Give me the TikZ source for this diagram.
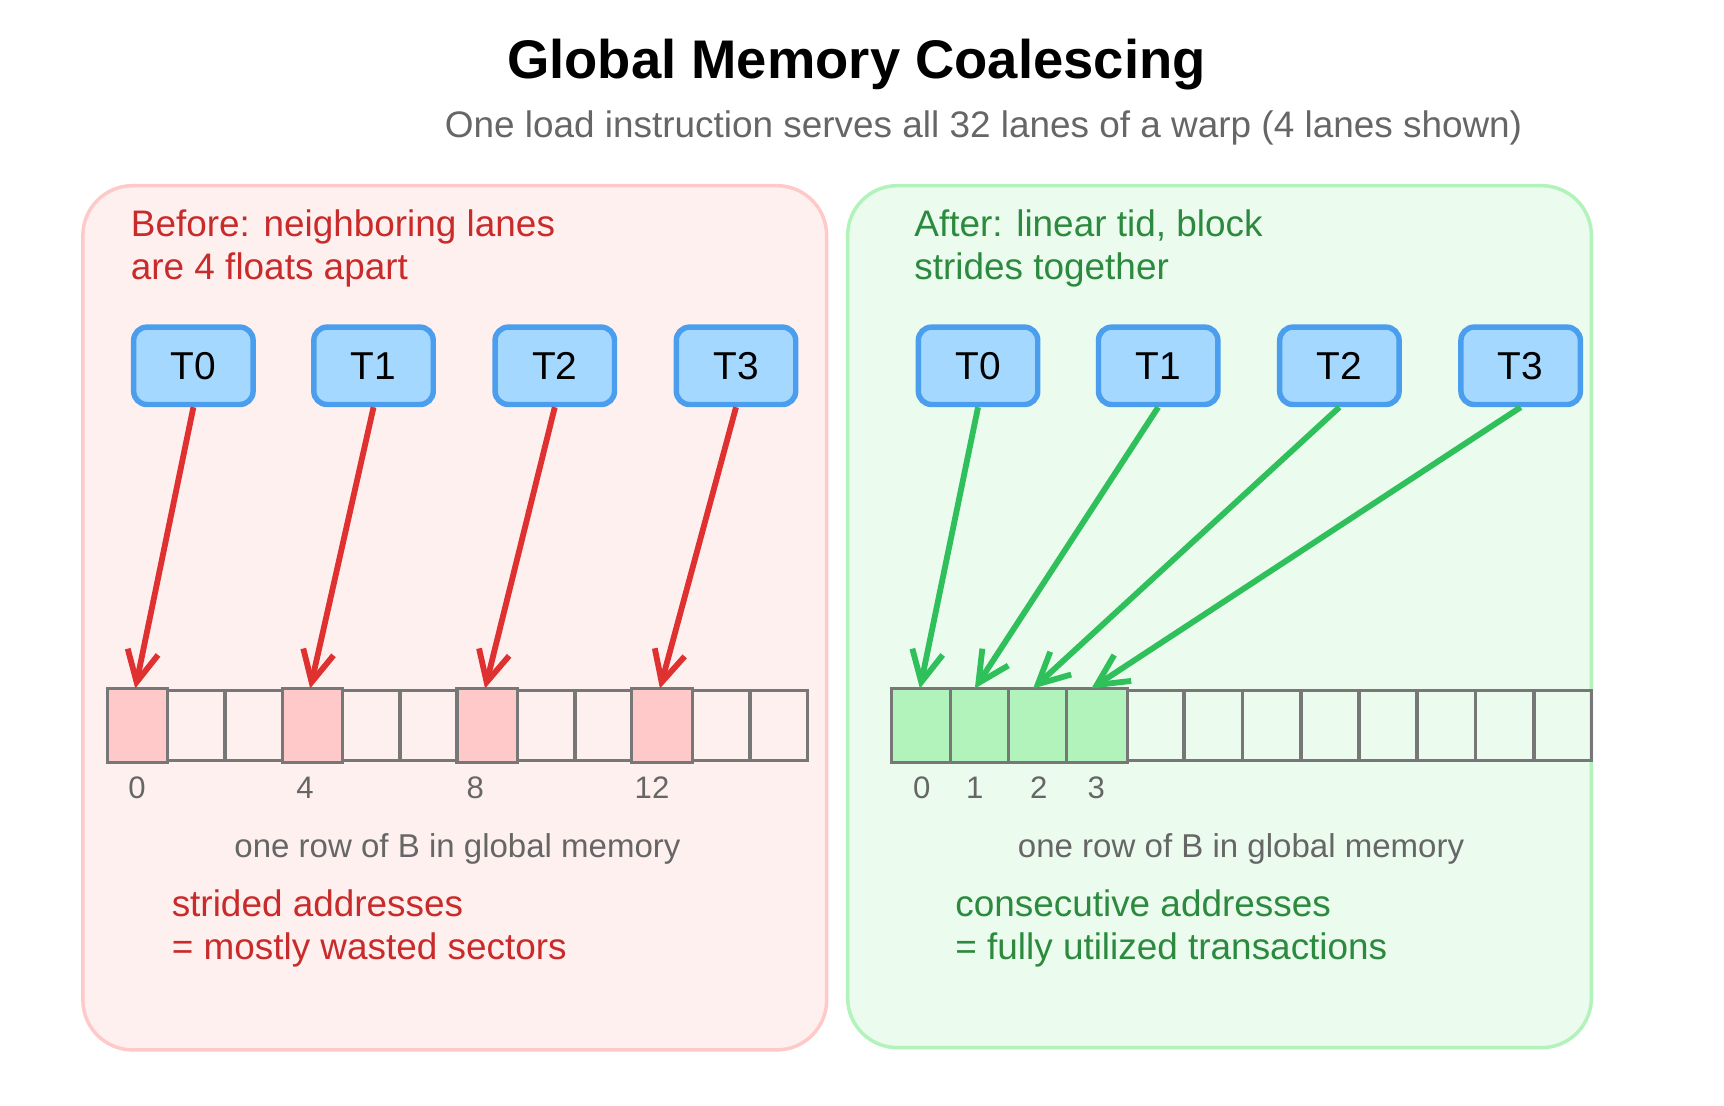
\documentclass[tikz,border=0pt]{standalone}
\usepackage{fontspec}
\setmainfont{Liberation Sans}
\usetikzlibrary{arrows.meta}
\definecolor{pinkbg}{HTML}{FFF0F0}\definecolor{pinkbd}{HTML}{FFC9C9}
\definecolor{greenbg}{HTML}{EBFBEE}\definecolor{greenbd}{HTML}{B2F2BB}
\definecolor{tbg}{HTML}{A5D8FF}\definecolor{tbd}{HTML}{4A9EED}
\definecolor{redt}{HTML}{C92A2A}\definecolor{redl}{HTML}{E03131}
\definecolor{greent}{HTML}{2B8A3E}\definecolor{greenl}{HTML}{2FBF5B}
\definecolor{cellbd}{HTML}{777777}\definecolor{graytxt}{HTML}{666666}
\begin{document}
\begin{tikzpicture}[x=0.01cm,y=-0.01cm,
 panel/.style={rounded corners=0.45cm,line width=0.9pt},
 th/.style={draw=tbd,fill=tbg,line width=1.4pt,rounded corners=0.12cm,minimum width=1.08cm,minimum height=0.7cm,font=\fontsize{10}{12}\selectfont},
 cell/.style={draw=cellbd,line width=0.8pt,minimum width=0.52cm,minimum height=0.64cm,inner sep=0,anchor=north west},
 idx/.style={text=graytxt,font=\fontsize{8}{10}\selectfont},
 note/.style={align=left,anchor=west,font=\fontsize{9.5}{12}\selectfont},
 arr/.style={line width=1.5pt,-{Straight Barb[length=0.28cm,width=0.28cm]}}]
\useasboundingbox (0,0) rectangle (1560,1000);
\node[font=\fontsize{14}{17}\selectfont\bfseries] (title) at (775,58) {Global Memory Coalescing};
\node[text=graytxt,font=\fontsize{9.5}{12}\selectfont] (sub) at (890,116) {One load instruction serves all 32 lanes of a warp (4 lanes shown)};
\draw[panel,draw=pinkbd,fill=pinkbg] (75,168) rectangle (748,950);
\draw[panel,draw=greenbd,fill=greenbg] (767,168) rectangle (1440,948);
\node[note,text=redt] (lt) at (106,225) {Before: neighboring lanes\\[-1pt]are 4 floats apart};
\node[note,text=greent] (rt) at (815,225) {After: linear tid, block\\[-1pt]strides together};
\foreach \i/\x in {0/175,1/338,2/502,3/666}{\node[th] (L\i) at (\x,331) {T\i};}
\foreach \i/\x in {0/885,1/1048,2/1212,3/1376}{\node[th] (R\i) at (\x,331) {T\i};}
\foreach \k in {0,...,11}{
 \pgfmathsetmacro{\xx}{97+52.75*\k}
 \node[cell] (lc\k) at (\xx,623) {};
 \pgfmathsetmacro{\yy}{807+52.7*\k}
 \node[cell] (rc\k) at (\yy,623) {};}
\foreach \k in {0,3,6,9}{\fill[pinkbd] (lc\k.north west) rectangle (lc\k.south east);\draw[cellbd,line width=0.8pt] (lc\k.north west) rectangle (lc\k.south east);}
\foreach \k in {0,1,2,3}{\fill[greenbd] (rc\k.north west) rectangle (rc\k.south east);\draw[cellbd,line width=0.8pt] (rc\k.north west) rectangle (rc\k.south east);}
\node[idx] at (124,713) {0};\node[idx] at (276,713) {4};\node[idx] at (430,713) {8};\node[idx] at (590,713) {12};
\node[idx] at (834,713) {0};\node[idx] at (882,713) {1};\node[idx] at (940,713) {2};\node[idx] at (992,713) {3};
\node[idx,font=\fontsize{8.5}{10}\selectfont] (lm) at (414,768) {one row of B in global memory};
\node[idx,font=\fontsize{8.5}{10}\selectfont] (rm) at (1123,768) {one row of B in global memory};
\node[note,text=redt] (lb) at (143,840) {strided addresses\\[-1pt]= mostly wasted sectors};
\node[note,text=greent] (rb) at (852,840) {consecutive addresses\\[-1pt]= fully utilized transactions};
\foreach \i/\k in {0/0,1/3,2/6,3/9}{\draw[arr,redl] (L\i.south) -- ([xshift=-0.02cm]lc\k.north);}
\draw[arr,greenl] (R0.south) -- ([xshift=-0.02cm]rc0.north);
\draw[arr,greenl] (R1.south) -- ([xshift=-0.05cm]rc1.north);
\draw[arr,greenl] (R2.south) -- ([xshift=-0.05cm]rc2.north);
\draw[arr,greenl] (R3.south) -- ([xshift=-0.05cm]rc3.north);
\end{tikzpicture}
\end{document}
